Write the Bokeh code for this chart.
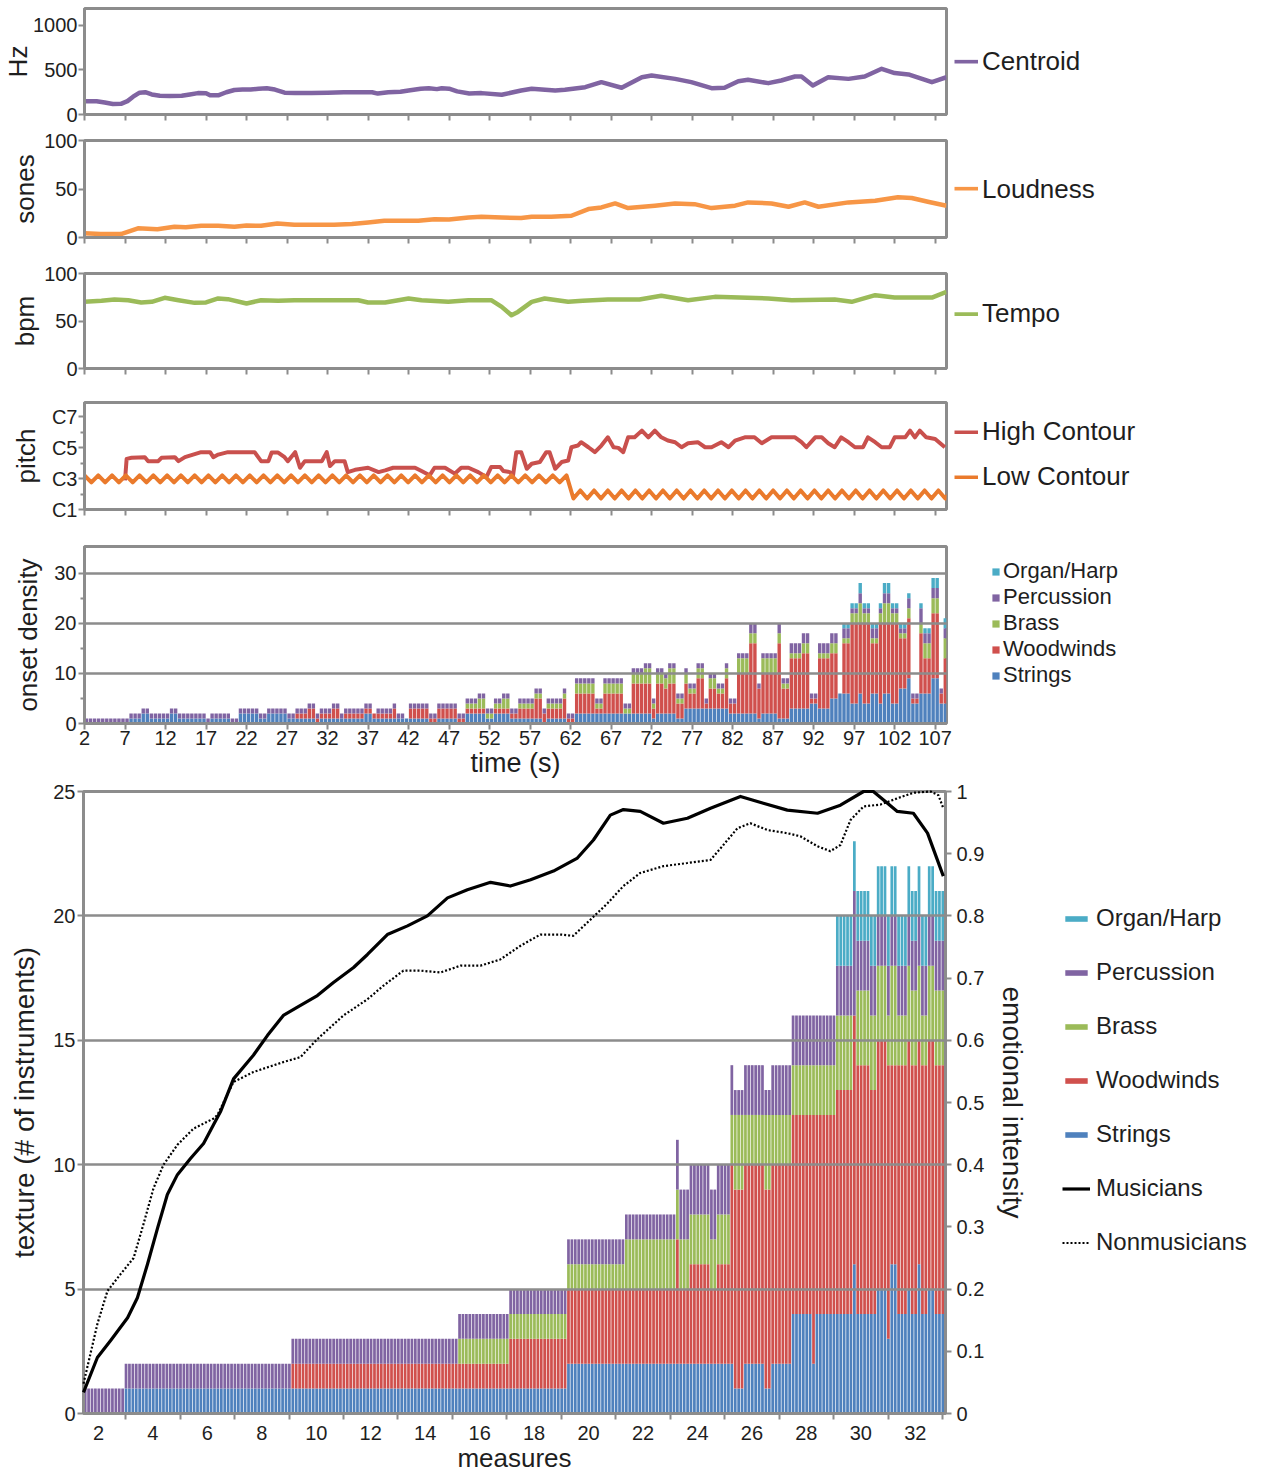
import numpy as np
from bokeh.plotting import figure
from bokeh.layouts import column, row
from bokeh.models import (ColumnDataSource, FixedTicker, Range1d, LinearAxis,
                          Legend, LegendItem, CustomJSTickFormatter)
from bokeh.embed import file_html
from bokeh.resources import INLINE

# ---------------------------------------------------------------- data
centroid_t = [2.0, 3.5, 4.5, 5.5, 6.5, 7.3, 8.0, 8.8, 9.5, 10.3, 11.3, 12.5, 14.0, 15.0, 16.0,
              17.0, 17.5, 18.5, 19.5, 20.5, 21.5, 22.5, 23.5, 24.5, 25.5, 26.7, 28.0, 30.0, 32.0,
              34.0, 36.0, 37.5, 38.2, 39.5, 41.0, 42.0, 43.5, 44.5, 45.5, 46.1, 47.0, 48.0, 49.5,
              51.0, 53.5, 55.9, 57.2, 60.1, 61.3, 63.8, 65.8, 68.3, 70.8, 72.0, 74.9, 76.9, 79.4,
              81.0, 82.7, 83.9, 86.4, 88.0, 89.7, 90.5, 91.9, 93.8, 96.3, 98.3, 100.4, 102.0,
              103.7, 106.6, 108.4]
centroid_hz = [150, 148, 135, 118, 120, 150, 200, 245, 250, 225, 210, 208, 210, 225, 240,
               238, 215, 215, 250, 275, 280, 280, 290, 295, 280, 245, 240, 240, 245,
               250, 250, 250, 235, 250, 255, 270, 290, 295, 285, 295, 290, 260, 235,
               240, 221, 270, 289, 270, 277, 307, 363, 300, 419, 438, 400, 363, 296,
               300, 374, 390, 352, 382, 427, 427, 326, 419, 400, 427, 513, 465,
               450, 363, 419]

loud_t = [2.0, 4.0, 6.5, 8.6, 11.0, 13.1, 14.5, 16.4, 18.5, 20.5, 22.0, 23.8, 25.8, 27.9, 30.0,
          32.8, 35.0, 37.0, 39.0, 41.0, 43.2, 45.2, 47.0, 49.4, 51.0, 53.5, 55.9, 57.2, 59.6,
          62.1, 64.2, 65.8, 67.5, 69.1, 72.4, 74.9, 77.3, 79.4, 82.3, 83.9, 86.8, 88.9, 90.9,
          92.6, 96.3, 99.6, 102.4, 104.1, 106.1, 108.4]
loud_sones = [4.5, 3.5, 3.5, 9.5, 8.6, 11.0, 10.5, 12.1, 12.1, 11.0, 12.3, 12.1, 14.5, 13.1, 13.1,
              13.1, 14.0, 15.5, 17.2, 17.2, 17.2, 18.9, 18.5, 20.7, 21.4, 20.7, 20.0, 21.4, 21.4,
              22.4, 29.3, 31.0, 35.1, 30.3, 32.8, 35.1, 34.4, 30.3, 32.8, 36.2, 35.1, 31.7, 36.2,
              31.7, 36.2, 37.9, 41.4, 40.7, 36.9, 32.8]

tempo_t = [2.0, 4.1, 5.7, 7.4, 9.0, 10.3, 11.9, 13.6, 15.6, 17.0, 18.5, 19.7, 22.0, 23.8, 25.9,
           27.9, 30.8, 35.8, 37.0, 39.1, 42.0, 43.6, 46.9, 49.4, 51.0, 52.2, 53.5, 54.7, 55.5,
           57.2, 58.8, 61.7, 63.5, 66.6, 70.5, 73.2, 76.5, 79.8, 86.4, 89.3, 94.6, 96.7, 99.6,
           102.0, 106.6, 108.4]
tempo_bpm = [70.2, 71.2, 72.6, 71.9, 69.5, 70.2, 74.4, 71.9, 69.1, 69.5, 73.7, 73.0, 68.4, 71.9,
             71.2, 71.9, 71.9, 71.9, 69.5, 69.5, 73.7, 71.9, 70.2, 71.9, 71.9, 71.9, 64.9, 56.1,
             59.6, 70.2, 73.7, 70.2, 71.2, 72.6, 72.6, 76.5, 71.9, 75.4, 73.7, 71.9, 72.6, 70.2,
             77.2, 74.7, 74.7, 80.7]

# pitch as MIDI note numbers (C1 = 24, C3 = 48, C5 = 72, C7 = 96)
high_t = [7.0, 7.2, 7.8, 9.45, 9.86, 11.1, 11.5, 13.15, 13.6, 14.4, 16.0, 16.4, 17.5, 17.9, 18.5,
          19.7, 23.0, 23.8, 24.7, 25.1, 25.9, 26.7, 27.1, 28.0, 28.6, 29.2, 31.3, 31.9, 32.3,
          32.9, 34.1, 34.5, 35.4, 37.0, 38.3, 39.1, 40.1, 42.8, 43.6, 44.6, 45.2, 46.5, 47.7,
          48.5, 49.4, 50.6, 51.6, 52.2, 53.3, 53.7, 54.5, 54.9, 55.3, 55.9, 56.6, 57.2, 58.2,
          59.0, 59.4, 60.1, 60.9, 61.7, 62.1, 62.9, 63.3, 64.2, 65.0, 65.8, 66.6, 67.3, 67.9,
          68.5, 69.1, 69.9, 70.8, 71.6, 72.4, 73.2, 74.0, 74.9, 75.7, 76.5, 77.7, 78.6, 79.4,
          80.6, 81.5, 82.3, 83.5, 84.7, 85.6, 86.8, 89.7, 90.5, 91.1, 92.2, 93.0, 93.8, 94.6,
          95.4, 96.3, 97.1, 98.1, 98.7, 99.6, 100.4, 101.4, 102.0, 103.3, 103.9, 104.5, 105.1,
          105.9, 107.0, 108.2]
high_midi = [46.6, 63.3, 64.1, 64.6, 61.5, 61.5, 64.1, 64.6, 61.5, 64.6, 67.7, 68.5, 68.5, 64.6,
             66.6, 68.5, 68.5, 61.5, 61.5, 68.2, 68.2, 64.6, 61.5, 68.5, 56.4, 61.5, 61.5, 68.5,
             57.7, 61.5, 61.5, 53.0, 54.8, 56.4, 53.0, 54.3, 56.4, 56.4, 53.8, 50.5, 56.4, 56.4,
             51.8, 56.4, 56.4, 53.0, 49.2, 56.9, 56.9, 53.8, 53.0, 50.5, 68.5, 68.5, 55.6, 59.5,
             60.8, 68.5, 68.5, 55.6, 60.8, 62.0, 72.3, 73.6, 76.2, 72.3, 68.5, 73.6, 80.0, 72.3,
             71.8, 68.5, 80.0, 80.0, 85.2, 80.0, 85.2, 80.0, 77.5, 76.2, 72.3, 75.4, 76.2, 72.3,
             72.3, 76.2, 72.3, 77.5, 80.0, 80.0, 75.4, 80.0, 80.0, 76.2, 72.3, 80.0, 80.0, 75.4,
             72.3, 80.0, 76.2, 72.3, 72.3, 80.0, 76.2, 72.3, 72.3, 80.0, 80.0, 85.2, 80.0, 85.2,
             80.0, 78.7, 72.3]

low_start = 2.0
low_step = 0.85
low_midi = [50.5, 45.0, 50.5, 45.0, 50.5, 45.0, 50.5, 45.0, 50.5, 45.0,
            50.5, 45.0, 50.5, 45.0, 50.5, 45.0, 50.5, 45.0, 50.5, 45.0,
            50.5, 45.0, 50.5, 45.0, 50.5, 45.0, 50.5, 45.0, 50.5, 45.0,
            50.5, 45.0, 50.5, 45.0, 50.5, 45.0, 50.5, 45.0, 50.5, 45.0,
            50.5, 45.0, 50.5, 45.0, 50.5, 45.0, 50.5, 45.0, 50.5, 45.0,
            50.5, 45.0, 50.5, 45.0, 50.5, 45.0, 50.5, 45.0, 50.5, 45.0,
            50.5, 45.0, 50.5, 45.0, 50.5, 45.0, 50.5, 45.0, 50.5, 45.0,
            50.5, 32.5, 38.8, 32.5, 38.8, 32.5, 38.8, 32.5, 38.8, 32.5,
            38.8, 32.5, 38.8, 32.5, 38.8, 32.5, 38.8, 32.5, 38.8, 32.5,
            38.8, 32.5, 38.8, 32.5, 38.8, 32.5, 38.8, 32.5, 38.8, 32.5,
            38.8, 32.5, 38.8, 32.5, 38.8, 32.5, 38.8, 32.5, 38.8, 32.5,
            38.8, 32.5, 38.8, 32.5, 38.8, 32.5, 38.8, 32.5, 38.8, 32.5,
            38.8, 32.5, 38.8, 32.5, 38.8, 32.5, 38.8]
pitch_ticks = [24, 48, 72, 96]
pitch_labels = ["C1", "C3", "C5", "C7"]
pitch_minor = [36, 60, 84]

time_ticks = [2, 7, 12, 17, 22, 27, 32, 37, 42, 47, 52, 57, 62, 67, 72, 77, 82, 87, 92, 97, 102, 107]

instruments = ["Strings", "Woodwinds", "Brass", "Percussion", "Organ/Harp"]
inst_colors = ["#4f81bd", "#d0504d", "#9bbb59", "#8064a2", "#4bacc6"]

# onset density: run lengths of 0.5-s bars starting at 2 s, with per-family counts per run
onset_run = [11, 3, 2, 5, 2, 7, 1, 5, 2, 5, 2, 5, 2, 3, 2, 1, 3, 2, 1, 5,
             2, 1, 4, 1, 2, 1, 5, 2, 5, 2, 3, 2, 2, 2, 2, 2, 4, 2, 1, 4,
             1, 2, 5, 2, 5, 2, 3, 2, 1, 2, 1, 2, 2, 1, 2, 2, 1, 2, 2, 1,
             2, 3, 2, 1, 4, 1, 2, 3, 2, 2, 3, 2, 1, 2, 2, 1, 2, 2, 1, 2,
             2, 2, 1, 2, 1, 2, 2, 1, 1]
onset_strings = [0, 1, 2, 1, 2, 1, 0, 1, 0, 2, 1, 2, 1, 1, 1, 0, 1, 1, 1, 1,
                 2, 1, 1, 1, 1, 1, 1, 0, 1, 0, 2, 2, 1, 2, 2, 1, 1, 1, 0, 1,
                 1, 0, 2, 2, 2, 2, 2, 2, 1, 2, 2, 2, 1, 3, 3, 3, 3, 3, 3, 3,
                 2, 2, 2, 1, 2, 1, 1, 3, 3, 4, 3, 5, 6, 6, 4, 6, 4, 6, 4, 6,
                 4, 7, 9, 4, 6, 6, 9, 4, 4]
onset_woodwinds = [0, 0, 0, 0, 0, 0, 0, 0, 0, 0, 0, 0, 0, 1, 2, 1, 1, 2, 0, 1,
                   1, 1, 1, 2, 0, 0, 2, 1, 2, 1, 1, 1, 0, 1, 1, 1, 2, 4, 2, 2,
                   4, 1, 4, 1, 4, 0, 6, 6, 2, 6, 5, 6, 3, 5, 3, 6, 1, 4, 3, 6,
                   2, 8, 14, 6, 8, 15, 6, 10, 11, 1, 10, 9, 0, 10, 16, 14, 16, 10, 16, 14,
                   16, 10, 12, 1, 12, 7, 13, 2, 9]
onset_brass = [0, 0, 0, 0, 0, 0, 0, 0, 0, 0, 0, 0, 0, 0, 0, 0, 0, 0, 0, 0,
               0, 0, 0, 0, 0, 0, 0, 0, 0, 0, 1, 2, 1, 1, 2, 0, 1, 1, 0, 1,
               1, 0, 2, 1, 2, 1, 2, 3, 1, 2, 2, 3, 1, 2, 1, 2, 0, 2, 1, 2,
               0, 3, 2, 0, 3, 2, 1, 1, 2, 0, 1, 2, 0, 1, 2, 4, 2, 1, 2, 4,
               2, 1, 2, 0, 2, 3, 3, 0, 4]
onset_percussion = [1, 1, 1, 1, 1, 1, 1, 1, 1, 1, 1, 1, 1, 1, 1, 1, 1, 1, 1, 1,
                    1, 0, 1, 1, 1, 0, 1, 1, 1, 1, 1, 1, 1, 1, 1, 1, 1, 1, 1, 1,
                    1, 1, 1, 1, 1, 1, 1, 1, 1, 1, 1, 1, 1, 1, 1, 1, 1, 1, 1, 1,
                    1, 1, 2, 1, 1, 2, 1, 2, 2, 1, 2, 2, 0, 2, 1, 2, 1, 2, 1, 2,
                    1, 1, 2, 1, 3, 2, 2, 1, 2]
onset_organ = [0, 0, 0, 0, 0, 0, 0, 0, 0, 0, 0, 0, 0, 0, 0, 0, 0, 0, 0, 0,
               0, 0, 0, 0, 0, 0, 0, 0, 0, 0, 0, 0, 0, 0, 0, 0, 0, 0, 0, 0,
               0, 0, 0, 0, 0, 0, 0, 0, 0, 0, 0, 0, 0, 0, 0, 0, 0, 0, 0, 0,
               0, 0, 0, 0, 0, 0, 0, 0, 0, 0, 0, 0, 0, 1, 1, 2, 1, 1, 1, 2,
               1, 1, 1, 0, 1, 1, 2, 0, 2]

# texture: run lengths of eighth-of-a-measure bars starting at measure 1.45
texture_run = [12, 49, 49, 15, 17, 17, 15, 1, 3, 6, 2, 4, 1, 3, 6, 2, 6, 6, 1, 6,
               5, 1, 4, 2, 3, 1, 2, 3, 1, 2, 1, 2, 2, 3]
texture_strings = [0, 1, 1, 1, 1, 2, 2, 2, 2, 2, 2, 2, 2, 1, 2, 1, 2, 4, 2, 4,
                   4, 6, 4, 4, 5, 3, 6, 4, 5, 4, 6, 4, 5, 4]
texture_woodwinds = [0, 0, 1, 1, 2, 3, 3, 5, 3, 4, 3, 4, 8, 8, 8, 8, 8, 8, 10, 8,
                     9, 10, 10, 9, 10, 11, 8, 10, 10, 10, 9, 10, 10, 10]
texture_brass = [0, 0, 0, 1, 1, 1, 2, 2, 2, 2, 2, 2, 2, 3, 2, 3, 2, 2, 2, 2,
                 3, 0, 3, 3, 3, 2, 4, 2, 3, 3, 3, 2, 3, 3]
texture_percussion = [1, 1, 1, 1, 1, 1, 1, 2, 2, 2, 2, 2, 2, 1, 2, 1, 2, 2, 2, 2,
                      2, 5, 2, 2, 2, 2, 2, 2, 2, 2, 2, 2, 2, 2]
texture_organ = [0, 0, 0, 0, 0, 0, 0, 0, 0, 0, 0, 0, 0, 0, 0, 0, 0, 0, 0, 0,
                 2, 2, 2, 2, 2, 2, 2, 2, 2, 2, 2, 2, 2, 2]

measure_ticks = [2, 4, 6, 8, 10, 12, 14, 16, 18, 20, 22, 24, 26, 28, 30, 32]
measure_minor = [3, 5, 7, 9, 11, 13, 15, 17, 19, 21, 23, 25, 27, 29, 31, 33]

musicians_m = [1.45, 1.96, 2.44, 3.07, 3.43, 3.80, 4.17, 4.53, 4.90, 5.38, 5.86, 6.22, 6.48, 6.96,
               7.69, 8.21, 8.79, 9.42, 10.04, 10.63, 11.37, 11.88, 12.61, 13.35, 14.08, 14.82,
               15.55, 16.40, 17.13, 17.87, 18.71, 19.59, 20.18, 20.80, 21.28, 21.90, 22.75, 23.63,
               24.48, 25.58, 26.42, 27.30, 28.41, 29.25, 30.10, 30.46, 30.98, 31.34, 31.93, 32.45,
               33.03]
musicians_v = [0.034, 0.09, 0.117, 0.154, 0.186, 0.24, 0.298, 0.352, 0.384, 0.41, 0.434, 0.464,
               0.485, 0.538, 0.576, 0.608, 0.64, 0.656, 0.672, 0.693, 0.717, 0.738, 0.77, 0.784,
               0.8, 0.829, 0.842, 0.854, 0.848, 0.858, 0.872, 0.893, 0.922, 0.962, 0.971, 0.968,
               0.949, 0.957, 0.973, 0.992, 0.981, 0.97, 0.965, 0.978, 1.0, 1.0, 0.981, 0.968,
               0.965, 0.933, 0.864]
nonmus_m = [1.45, 1.96, 2.33, 2.81, 3.29, 3.65, 4.02, 4.39, 4.90, 5.49, 6.22, 6.37, 6.96, 7.69,
            8.79, 9.42, 10.04, 11.0, 11.88, 12.47, 13.2, 13.83, 14.56, 15.3, 16.03, 16.76, 17.5,
            18.23, 18.97, 19.44, 20.07, 20.69, 21.28, 21.9, 22.75, 23.63, 24.48, 24.95, 25.47,
            25.94, 26.57, 27.3, 27.78, 28.41, 28.88, 29.25, 29.62, 30.1, 30.72, 31.34, 31.93,
            32.56, 32.85, 33.03]
nonmus_v = [0.048, 0.144, 0.197, 0.224, 0.25, 0.304, 0.362, 0.4, 0.432, 0.458, 0.474, 0.48, 0.533,
            0.549, 0.565, 0.573, 0.602, 0.64, 0.666, 0.688, 0.712, 0.712, 0.709, 0.72, 0.72, 0.73,
            0.752, 0.77, 0.77, 0.768, 0.794, 0.82, 0.848, 0.869, 0.88, 0.885, 0.89, 0.914, 0.941,
            0.949, 0.938, 0.933, 0.928, 0.912, 0.904, 0.914, 0.954, 0.976, 0.979, 0.989, 0.998,
            1.0, 0.994, 0.973]
emotion_ticks = [0.0, 0.1, 0.2, 0.3, 0.4, 0.5, 0.6, 0.7, 0.8, 0.9, 1.0]

# ---------------------------------------------------------------- style
FONT = "Liberation Sans"
GRAY = "#8c8c8c"
INK = "#1e1e1e"
LEFT, FRAME_W, RIGHT = 83, 862, 323
T0, T1 = 2.0, 108.4


def style_axes(axes):
    for ax in axes:
        ax.axis_line_color = GRAY
        ax.axis_line_width = 3
        ax.major_tick_line_color = GRAY
        ax.major_tick_line_width = 2
        ax.major_tick_out = 6
        ax.major_tick_in = 0
        ax.minor_tick_line_color = None
        ax.major_label_text_font = FONT
        ax.major_label_text_font_size = "20px"
        ax.major_label_text_color = INK
        ax.major_label_standoff = 2
        ax.axis_label_text_font = FONT
        ax.axis_label_text_font_style = "normal"
        ax.axis_label_text_font_size = "26px"
        ax.axis_label_text_color = INK


def make_fig(frame_h, top, bottom, x_range, y_range, right=RIGHT):
    p = figure(frame_width=FRAME_W, frame_height=frame_h, min_border_left=LEFT,
               min_border_right=right, min_border_top=top, min_border_bottom=bottom,
               x_range=x_range, y_range=y_range, output_backend="svg",
               toolbar_location=None, background_fill_color="white",
               border_fill_color="white")
    p.outline_line_color = GRAY
    p.outline_line_width = 3
    p.xgrid.visible = False
    p.ygrid.visible = False
    style_axes(p.axis)
    return p


def make_legend(items, size, gw, gh, spacing, lh, loc, margin=0, standoff=4):
    return Legend(items=items, location=loc, orientation="vertical",
                  border_line_color=None, background_fill_alpha=0.0,
                  padding=0, margin=margin, spacing=spacing,
                  glyph_width=gw, glyph_height=gh, label_height=lh,
                  label_standoff=standoff, label_text_font=FONT,
                  label_text_font_size=size, label_text_color=INK)


def time_panel(frame_h, top, bottom, y_range, yticks, ylabel, label_standoff):
    p = make_fig(frame_h, top, bottom, Range1d(T0, T1), y_range)
    p.xaxis.ticker = FixedTicker(ticks=time_ticks)
    p.xaxis.formatter = CustomJSTickFormatter(code="return '';")
    p.xaxis.major_label_text_font_size = "1px"
    p.xaxis.major_label_standoff = 0
    p.yaxis.ticker = FixedTicker(ticks=yticks)
    p.yaxis.axis_label = ylabel
    p.yaxis.major_label_standoff = 1
    p.yaxis.axis_label_standoff = label_standoff
    return p


# ---------------------------------------------------------------- panel 1: centroid
p1 = time_panel(106, 8, 14, Range1d(0, 1190), [0, 500, 1000], "Hz", -3)
r = p1.line(centroid_t, centroid_hz, line_color="#8064a2", line_width=4.5, line_join="round")
p1.add_layout(make_legend([LegendItem(label="Centroid", renderers=[r])],
                          "26px", 24, 4, 0, 26, "center_left", margin=8), "right")

# ---------------------------------------------------------------- panel 2: loudness
p2 = time_panel(97, 12, 18, Range1d(0, 100), [0, 50, 100], "sones", 1)
r = p2.line(loud_t, loud_sones, line_color="#f79646", line_width=4.5, line_join="round")
p2.add_layout(make_legend([LegendItem(label="Loudness", renderers=[r])],
                          "26px", 24, 4, 0, 26, "center_left", margin=8), "right")

# ---------------------------------------------------------------- panel 3: tempo
p3 = time_panel(95, 18, 20, Range1d(0, 100), [0, 50, 100], "bpm", 1)
r = p3.line(tempo_t, tempo_bpm, line_color="#9bbb59", line_width=4.5, line_join="round")
p3.add_layout(make_legend([LegendItem(label="Tempo", renderers=[r])],
                          "26px", 24, 4, 0, 26, (8, 39)), "right")

# ---------------------------------------------------------------- panel 4: pitch
p4 = time_panel(107, 14, 21, Range1d(24, 107), pitch_ticks, "pitch", 8)
p4.yaxis.ticker = FixedTicker(ticks=pitch_ticks, minor_ticks=pitch_minor)
p4.yaxis.major_label_overrides = {k: v for k, v in zip(pitch_ticks, pitch_labels)}
p4.yaxis.minor_tick_line_color = GRAY
p4.yaxis.minor_tick_line_width = 2
p4.yaxis.minor_tick_out = 4
p4.yaxis.minor_tick_in = 0
low_t = low_start + low_step * np.arange(len(low_midi))
r_hi = p4.line(high_t, high_midi, line_color="#c9504d", line_width=4, line_join="round")
r_lo = p4.line(low_t, low_midi, line_color="#ea7a2c", line_width=4, line_join="round")
p4.add_layout(make_legend([LegendItem(label="High Contour", renderers=[r_hi]),
                           LegendItem(label="Low Contour", renderers=[r_lo])],
                          "26px", 24, 4, 14, 28, (8, 17)), "right")

# ---------------------------------------------------------------- panel 5: onset density
def expand(run, vals):
    return np.repeat(np.asarray(vals, dtype=float), run)


od = {name: expand(onset_run, vals) for name, vals in zip(
    instruments, [onset_strings, onset_woodwinds, onset_brass, onset_percussion, onset_organ])}
n_od = len(od["Strings"])
od["t"] = T0 + 0.25 + 0.5 * np.arange(n_od)
src_od = ColumnDataSource(od)

p5 = make_fig(177, 16, 57, Range1d(T0, T1), Range1d(0, 35.3))
p5.xaxis.ticker = FixedTicker(ticks=time_ticks)
p5.xaxis.axis_label = "time (s)"
p5.xaxis.axis_label_text_font_size = "27px"
p5.xaxis.major_label_standoff = 1
p5.xaxis.axis_label_standoff = 0
p5.yaxis.ticker = FixedTicker(ticks=[0, 10, 20, 30], minor_ticks=[5, 15, 25])
p5.yaxis.minor_tick_line_color = GRAY
p5.yaxis.minor_tick_line_width = 2
p5.yaxis.minor_tick_out = 4
p5.yaxis.minor_tick_in = 0
p5.yaxis.axis_label = "onset density"
p5.yaxis.axis_label_standoff = 8
p5.ygrid.visible = True
p5.ygrid.ticker = FixedTicker(ticks=[10, 20, 30])
p5.ygrid.grid_line_color = GRAY
p5.ygrid.grid_line_width = 2.5
p5.ygrid.level = "guide"
rs5 = p5.vbar_stack(instruments, x="t", width=0.42, color=inst_colors, line_color=None,
                    source=src_od)
p5.add_layout(make_legend([LegendItem(label=instruments[k], renderers=[rs5[k]])
                           for k in range(4, -1, -1)],
                          "22px", 9, 9, -3, 24, (45, 35), standoff=3), "right")

# ---------------------------------------------------------------- panel 6: texture + intensity
tx = {name: expand(texture_run, vals) for name, vals in zip(
    instruments, [texture_strings, texture_woodwinds, texture_brass, texture_percussion,
                  texture_organ])}
n_tx = len(tx["Strings"])
M0 = 1.45
tx["m"] = M0 + (np.arange(n_tx) + 0.5) / 8.0
src_tx = ColumnDataSource(tx)

LEG_W = 213
p6 = make_fig(622, 11, 59, Range1d(M0, 33.11), Range1d(0, 25),
              right=1268 - LEFT - FRAME_W - LEG_W)
p6.extra_y_ranges = {"emo": Range1d(0, 1)}
p6.xaxis.ticker = FixedTicker(ticks=measure_ticks, minor_ticks=measure_minor)
p6.xaxis.major_tick_out = 0
p6.xaxis.minor_tick_line_color = GRAY
p6.xaxis.minor_tick_line_width = 2
p6.xaxis.minor_tick_out = 6
p6.xaxis.minor_tick_in = 0
p6.xaxis.major_label_standoff = 6
p6.xaxis.axis_label = "measures"
p6.xaxis.axis_label_text_font_size = "26px"
p6.xaxis.axis_label_standoff = 0
p6.yaxis.ticker = FixedTicker(ticks=[0, 5, 10, 15, 20, 25])
p6.yaxis.axis_label = "texture (# of instruments)"
p6.yaxis.axis_label_text_font_size = "28px"
p6.yaxis.axis_label_standoff = 10
p6.ygrid.visible = True
p6.ygrid.ticker = FixedTicker(ticks=[5, 10, 15, 20])
p6.ygrid.grid_line_color = GRAY
p6.ygrid.grid_line_width = 2.5
p6.ygrid.level = "guide"

rs6 = p6.vbar_stack(instruments, x="m", width=0.1, color=inst_colors, line_color=None,
                    source=src_tx)
r_mus = p6.line(musicians_m, musicians_v, y_range_name="emo", line_color="black",
                line_width=3.2, line_join="round")
r_non = p6.line(nonmus_m, nonmus_v, y_range_name="emo", line_color="black",
                line_width=2.2, line_dash="2 2")
r_mus.level = "annotation"
r_non.level = "annotation"

ax_r = LinearAxis(y_range_name="emo", ticker=FixedTicker(ticks=emotion_ticks),
                  formatter=CustomJSTickFormatter(
                      code="return tick < 0.001 ? '0' : (tick > 0.999 ? '1' : tick.toFixed(1));"),
                  axis_label="emotional intensity")
style_axes([ax_r])
ax_r.axis_label_text_font_size = "28px"
ax_r.major_label_standoff = 5
ax_r.axis_label_standoff = 10
p6.add_layout(ax_r, "right")

# legend for panel 6 lives in a narrow companion canvas to the right of the axis;
# its key renderers reuse the same data, which falls outside this canvas's ranges
lf = figure(width=LEG_W, height=11 + 622 + 59, x_range=Range1d(-2, -1), y_range=Range1d(-2, -1),
            x_axis_type=None, y_axis_type=None, toolbar_location=None,
            output_backend="svg", min_border=0)
lf.outline_line_color = None
lf.grid.visible = False
key_bars = lf.vbar_stack(instruments, x="m", width=0.1, color=inst_colors, line_color=None,
                         source=src_tx)
key_mus = lf.line(musicians_m, musicians_v, line_color="black", line_width=3.2)
key_non = lf.line(nonmus_m, nonmus_v, line_color="black", line_width=2.2, line_dash="2 2")
leg_items = [LegendItem(label=instruments[k], renderers=[key_bars[k]]) for k in range(4, -1, -1)]
leg_items += [LegendItem(label="Musicians", renderers=[key_mus]),
              LegendItem(label="Nonmusicians", renderers=[key_non])]
lf.add_layout(make_legend(leg_items, "24px", 28, 7, 26, 26, (7, 154), standoff=6), "center")

layout = column(p1, p2, p3, p4, p5, row(p6, lf, spacing=0), spacing=0)
open("out.html", "w").write(file_html(layout, INLINE))
